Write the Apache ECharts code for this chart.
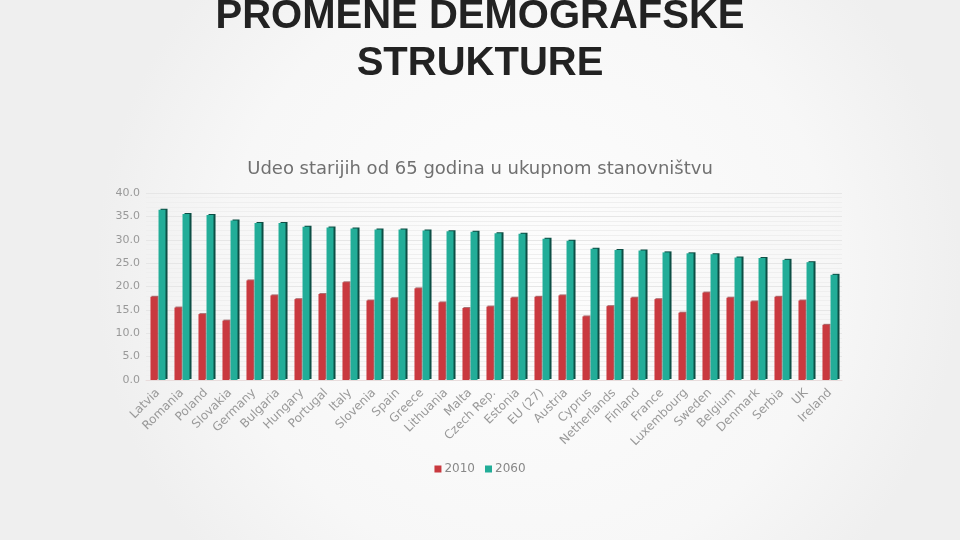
<!DOCTYPE html>
<html>
<head>
<meta charset="utf-8">
<script src="https://cdn.jsdelivr.net/npm/echarts@6/dist/echarts.min.js"></script>
<style>html,body{margin:0;padding:0;}#c{width:960px;height:540px;}</style>
</head>
<body>
<div id="c"></div>
<script>
const categories = ["Latvia","Romania","Poland","Slovakia","Germany","Bulgaria","Hungary","Portugal","Italy","Slovenia","Spain","Greece","Lithuania","Malta","Czech Rep.","Estonia","EU (27)","Austria","Cyprus","Netherlands","Finland","France","Luxembourg","Sweden","Belgium","Denmark","Serbia","UK","Ireland"];
const values2010 = [17.8,15.5,14.1,12.7,21.3,18.1,17.3,18.4,20.9,17.0,17.5,19.6,16.6,15.4,15.7,17.6,17.8,18.1,13.6,15.8,17.6,17.3,14.4,18.7,17.6,16.8,17.8,17.0,11.8];
const values2060 = [36.4,35.5,35.3,34.1,33.6,33.6,32.8,32.6,32.4,32.2,32.2,32.0,31.8,31.7,31.4,31.3,30.2,29.8,28.1,27.8,27.7,27.3,27.1,26.9,26.2,26.1,25.7,25.2,22.5];
const seriesNames = ["2010","2060"];

const chart = echarts.init(document.getElementById('c'));
chart.setOption({
  backgroundColor: {
    type: 'radial', x: 0.55, y: 0.5, r: 0.8,
    colorStops: [{offset: 0, color: '#fdfdfd'}, {offset: 0.7, color: '#f7f7f7'}, {offset: 1, color: '#efefef'}]
  },
  animation: false,
  title: [{
    text: 'PROMENE DEMOGRAFSKE\nSTRUKTURE',
    left: 'center', top: -12,
    textStyle: {fontFamily: 'Liberation Sans', fontWeight: 'bold', fontSize: 40, lineHeight: 47, color: '#222'}
  }, {
    text: 'Udeo starijih od 65 godina u ukupnom stanovništvu',
    left: 'center', top: 155,
    textStyle: {fontFamily: 'DejaVu Sans', fontWeight: 'normal', fontSize: 18, color: '#707070'}
  }],
  legend: {
    data: seriesNames,
    bottom: 60, left: 'center',
    itemWidth: 7, itemHeight: 7, itemGap: 10,
    icon: 'rect',
    textStyle: {fontFamily: 'DejaVu Sans', fontSize: 12, color: '#888', padding: [0, 0, 0, -2]}
  },
  grid: {left: 146, right: 118, top: 193, bottom: 160, containLabel: false},
  xAxis: {
    type: 'category', data: categories,
    axisLine: {lineStyle: {color: '#e8dcdc'}},
    axisTick: {show: false},
    axisLabel: {rotate: 45, interval: 0, fontFamily: 'DejaVu Sans', fontSize: 12, color: '#999', margin: 11}
  },
  yAxis: {
    type: 'value', min: 0, max: 40, interval: 5,
    axisLine: {show: false}, axisTick: {show: false},
    axisLabel: {formatter: v => v.toFixed(1), fontFamily: 'DejaVu Sans', fontSize: 11, color: '#999', margin: 6},
    splitLine: {lineStyle: {color: '#e6e6e6'}},
    minorTick: {show: false, splitNumber: 5},
    minorSplitLine: {show: true, lineStyle: {color: '#efefef'}}
  },
  series: [{
    name: seriesNames[0], type: 'bar', data: values2010,
    barWidth: 7, barGap: '15%',
    itemStyle: {color: '#c9393f', shadowColor: 'rgba(120,20,25,0.6)', shadowOffsetX: 1, shadowOffsetY: -1, shadowBlur: 0}
  }, {
    name: seriesNames[1], type: 'bar', data: values2060,
    barWidth: 7,
    itemStyle: {color: '#22ad98', shadowColor: '#0d4f45', shadowOffsetX: 2, shadowOffsetY: -1, shadowBlur: 0}
  }]
});
</script>
</body>
</html>
